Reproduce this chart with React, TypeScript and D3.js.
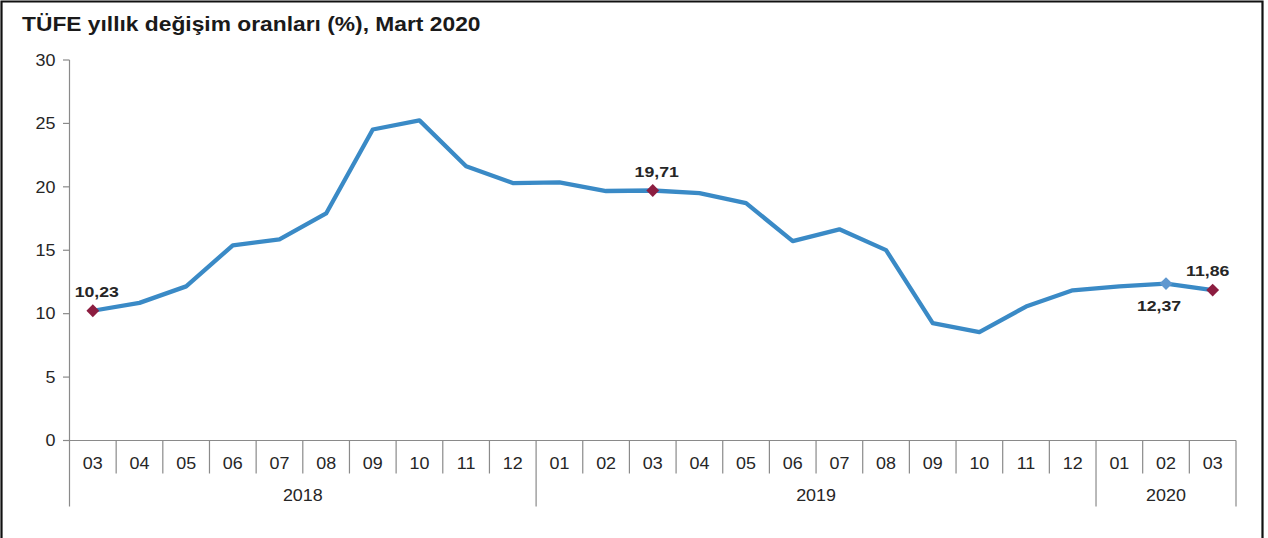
import React from "react";
import * as d3 from "d3";

const months = ["03","04","05","06","07","08","09","10","11","12","01","02","03","04","05","06","07","08","09","10","11","12","01","02","03"];
const values = [10.23,10.85,12.15,15.39,15.85,17.90,24.52,25.24,21.62,20.30,20.35,19.67,19.71,19.50,18.71,15.72,16.65,15.01,9.26,8.55,10.56,11.84,12.15,12.37,11.86];
const years = [
  { label: "2018", start: 0, end: 10 },
  { label: "2019", start: 10, end: 22 },
  { label: "2020", start: 22, end: 25 },
];
const yTicks = [0, 5, 10, 15, 20, 25, 30];
const highlighted = [
  { index: 0, color: "#8c1d40", label: "10,23", pos: "above" },
  { index: 12, color: "#8c1d40", label: "19,71", pos: "above" },
  { index: 23, color: "#5f97cf", label: "12,37", pos: "below" },
  { index: 24, color: "#8c1d40", label: "11,86", pos: "above" },
];
const title = "TÜFE yıllık değişim oranları (%), Mart 2020";

const W = 1268, H = 538;
const left = 69.5, right = 1236, top = 60, bottom = 440.5;
const FONT = "'Liberation Sans', Arial, sans-serif";
const TEXT = "#262626";
const AXIS = "#8a8a8a";

export default function App() {
  const idx = months.map((_, i) => i);
  const x = d3.scaleBand<number>().domain(idx).range([left, right]).padding(0);
  const y = d3.scaleLinear().domain([0, 30]).range([bottom, top]);
  const bw = x.bandwidth();
  const cx = (i: number) => (x(i) as number) + bw / 2;
  const line = d3.line<number>().x((_, i) => cx(i)).y((v) => y(v)).curve(d3.curveLinear);
  const diamond = d3.symbol().type(d3.symbolDiamond2).size(105)();
  const boundary = (i: number) => (i >= months.length ? right : (x(i) as number));
  const yearBounds = new Set<number>();
  years.forEach((g) => { yearBounds.add(g.start); yearBounds.add(g.end); });

  return (
    <svg width={W} height={H} style={{ position: "absolute", left: 0, top: 0, background: "#fff" }} fontFamily={FONT}>
      <rect x={0} y={0} width={W} height={H} fill="#fff" />
      <path d={`M1.5,${H}V1.5H1262.5V${H}`} fill="none" stroke="#111" strokeWidth={2.2} />
      <text transform="translate(22,31) scale(1.14,1)" fontSize={20} fontWeight="bold" fill="#1a1a1a">{title}</text>

      {/* y axis */}
      <line x1={left} x2={left} y1={top} y2={bottom + 66} stroke={AXIS} strokeWidth={1.2} />
      {yTicks.map((t) => (
        <g key={t}>
          <line x1={left - 6.5} x2={left} y1={y(t)} y2={y(t)} stroke={AXIS} strokeWidth={1.2} />
          <text transform={`translate(${left - 14},${y(t) + 5.8}) scale(1.12,1)`} fontSize={16} textAnchor="end" fill={TEXT}>{t}</text>
        </g>
      ))}

      {/* x axis */}
      <line x1={left} x2={right} y1={bottom} y2={bottom} stroke={AXIS} strokeWidth={1.2} />
      {d3.range(1, months.length + 1).map((i) => (
        <line key={i} x1={boundary(i)} x2={boundary(i)} y1={bottom} y2={yearBounds.has(i) ? bottom + 66 : bottom + 33} stroke={AXIS} strokeWidth={1.2} />
      ))}
      {months.map((m, i) => (
        <text key={i} transform={`translate(${cx(i)},${bottom + 28}) scale(1.12,1)`} fontSize={16} textAnchor="middle" fill={TEXT}>{m}</text>
      ))}
      {years.map((g) => (
        <text key={g.label} transform={`translate(${(boundary(g.start) + boundary(g.end)) / 2},${bottom + 60}) scale(1.12,1)`} fontSize={16} textAnchor="middle" fill={TEXT}>{g.label}</text>
      ))}

      {/* series */}
      <path d={line(values) as string} fill="none" stroke="#3a8ac6" strokeWidth={4.3} strokeLinejoin="round" />
      {highlighted.map((h) => (
        <g key={h.index}>
          <path d={diamond as string} transform={`translate(${cx(h.index)},${y(values[h.index])})`} fill={h.color} />
          <text
            transform={`translate(${cx(h.index) + (h.pos === "above" ? (h.index === 24 ? -5 : 4) : -7)},${y(values[h.index]) + (h.pos === "above" ? -14 : 27)}) scale(1.18,1)`}
            fontSize={15} fontWeight="bold" textAnchor="middle" fill={TEXT}
          >{h.label}</text>
        </g>
      ))}
    </svg>
  );
}
